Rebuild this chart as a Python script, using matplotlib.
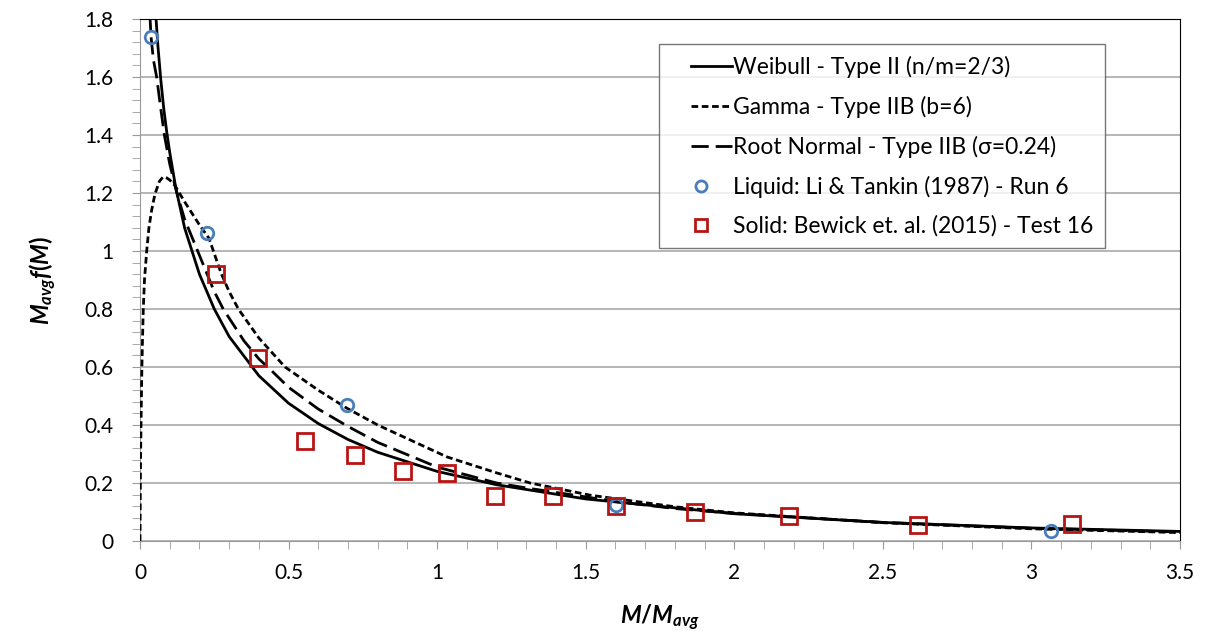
import matplotlib
matplotlib.use('Agg')
import matplotlib.pyplot as plt
from matplotlib.ticker import MultipleLocator
from matplotlib.lines import Line2D
from matplotlib.legend_handler import HandlerLine2D

plt.rcParams['font.family'] = ['Lato', 'DejaVu Sans']
plt.rcParams['mathtext.fontset'] = 'custom'
plt.rcParams['mathtext.it'] = 'Lato:italic:bold'
plt.rcParams['mathtext.rm'] = 'Lato:bold'

# curves
weibull_x = [0.045, 0.05, 0.06, 0.07, 0.08, 0.09, 0.1, 0.12, 0.15, 0.2, 0.25, 0.3,
             0.4, 0.5, 0.6, 0.7, 0.8, 1.0, 1.2, 1.5, 2.0, 2.5, 3.0, 3.5]
weibull_y = [1.96, 1.86, 1.71, 1.59, 1.49, 1.41, 1.34, 1.22, 1.08, 0.92, 0.80, 0.705,
             0.57, 0.475, 0.405, 0.35, 0.306, 0.24, 0.194, 0.145, 0.094, 0.064, 0.045, 0.033]

gamma_x = [0, 0.001, 0.002, 0.004, 0.006, 0.008, 0.011, 0.015, 0.0225, 0.03, 0.039, 0.05,
           0.065, 0.078, 0.09, 0.1, 0.118, 0.15, 0.2, 0.232, 0.247, 0.273, 0.3, 0.331,
           0.4, 0.488, 0.6, 0.696, 0.8, 1.033, 1.2, 1.313, 1.515, 1.8, 2.0, 2.5, 3.0, 3.5]
gamma_y = [0, 0.18, 0.3, 0.45, 0.58, 0.68, 0.8, 0.9, 1.0, 1.08, 1.14, 1.195,
           1.24, 1.256, 1.252, 1.245, 1.225, 1.17, 1.09, 1.044, 1.0, 0.923, 0.86, 0.80,
           0.70, 0.60, 0.52, 0.458, 0.40, 0.29, 0.235, 0.2, 0.158, 0.118, 0.097, 0.063, 0.042, 0.029]

rootnorm_x = [0.033, 0.037, 0.045, 0.056, 0.07, 0.082, 0.1, 0.124, 0.15, 0.2, 0.25, 0.28,
              0.35, 0.4, 0.44, 0.5, 0.6, 0.7, 0.8, 1.0, 1.2, 1.3, 1.5, 1.6, 1.8, 2.0,
              2.5, 3.0, 3.5]
rootnorm_y = [1.82, 1.74, 1.66, 1.6, 1.49, 1.4, 1.30, 1.2, 1.11, 0.985, 0.86, 0.80,
              0.69, 0.628, 0.59, 0.53, 0.455, 0.395, 0.34, 0.255, 0.2, 0.183, 0.152, 0.136, 0.112, 0.095,
              0.064, 0.044, 0.031]

# measured points
liquid_x = [0.037, 0.224, 0.695, 1.603, 3.066]
liquid_y = [1.739, 1.062, 0.470, 0.124, 0.033]

solid_x = [0.255, 0.396, 0.556, 0.724, 0.886, 1.034, 1.195, 1.39, 1.603, 1.868,
           2.185, 2.62, 3.137]
solid_y = [0.922, 0.632, 0.345, 0.297, 0.241, 0.234, 0.155, 0.155, 0.121, 0.101,
           0.085, 0.055, 0.057]

xticks = [0, 0.5, 1, 1.5, 2, 2.5, 3, 3.5]
xtick_labels = ['0', '0.5', '1', '1.5', '2', '2.5', '3', '3.5']
yticks = [0, 0.2, 0.4, 0.6, 0.8, 1.0, 1.2, 1.4, 1.6, 1.8]
ytick_labels = ['0', '0.2', '0.4', '0.6', '0.8', '1', '1.2', '1.4', '1.6', '1.8']

labels = ['Weibull - Type II (n/m=2/3)',
          'Gamma - Type IIB (b=6)',
          'Root Normal - Type IIB (\u03c3=0.24)',
          'Liquid: Li & Tankin (1987) - Run 6',
          'Solid: Bewick et. al. (2015) - Test 16']

blue = '#4a7eba'
red = '#b81414'
long_dash = (6.2, 2.5)
short_dash = (2.4, 1.3)

fig = plt.figure(figsize=(12.07, 6.34), dpi=100)
ax = fig.add_axes([0.116, 0.1467, 0.8616, 0.8233])

ax.plot(weibull_x, weibull_y, color='black', lw=2, zorder=3)
ax.plot(gamma_x, gamma_y, color='black', lw=2, dashes=short_dash, zorder=3)
ax.plot(rootnorm_x, rootnorm_y, color='black', lw=2, dashes=long_dash, zorder=3)
ax.plot(liquid_x, liquid_y, ls='none', marker='o', ms=9, mfc='none', mec=blue, mew=2, zorder=4)
ax.plot(solid_x, solid_y, ls='none', marker='s', ms=11, mfc='none', mec=red, mew=2, zorder=5)

ax.set_xlim(0, 3.5)
ax.set_ylim(0, 1.8)
ax.set_xticks(xticks)
ax.set_xticklabels(xtick_labels)
ax.set_yticks(yticks)
ax.set_yticklabels(ytick_labels)
ax.xaxis.set_minor_locator(MultipleLocator(0.1))
ax.yaxis.set_minor_locator(MultipleLocator(0.04))
ax.tick_params(which='both', direction='out', color='#9a9a9a', labelsize=15, length=6)
ax.tick_params(axis='y', pad=13)
ax.tick_params(axis='x', pad=10)

ax.grid(axis='y', color='#b0b0b0', lw=1.3)
ax.set_axisbelow(True)
for s in ['left', 'bottom']:
    ax.spines[s].set_color('#9a9a9a')
for s in ['top', 'right']:
    ax.spines[s].set_color('black')

ax.set_xlabel(r'$M/M_{avg}$', fontsize=17, labelpad=14)
ax.set_ylabel(r'$M_{avg}f(M)$', fontsize=17, labelpad=18)

handles = [Line2D([], [], color='black', lw=2),
           Line2D([], [], color='black', lw=2, dashes=short_dash),
           Line2D([], [], color='black', lw=2, dashes=long_dash),
           Line2D([], [], ls='none', marker='o', ms=8, mfc='none', mec=blue, mew=2),
           Line2D([], [], ls='none', marker='s', ms=9, mfc='none', mec=red, mew=2)]
line_h = HandlerLine2D(xpad=0.88)
mark_h = HandlerLine2D(xpad=0.0)
leg = ax.legend(handles, labels, loc='upper left', bbox_to_anchor=(0.499, 0.952),
                fontsize=16.5, frameon=True, fancybox=False, handlelength=2.7,
                handletextpad=0.05, labelspacing=0.78, borderpad=0.5, borderaxespad=0,
                handler_map={handles[0]: line_h, handles[1]: line_h, handles[2]: line_h,
                             handles[3]: mark_h, handles[4]: mark_h})
leg.get_frame().set_edgecolor('#555555')
leg.get_frame().set_linewidth(1)

fig.savefig('out.png', dpi=100)
